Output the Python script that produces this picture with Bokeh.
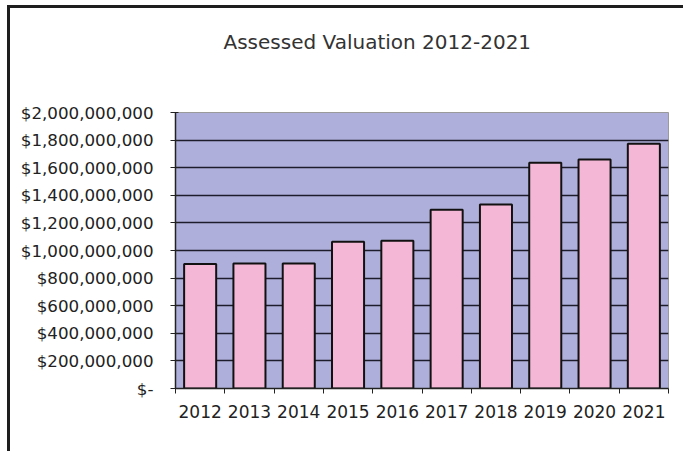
from bokeh.plotting import figure
from bokeh.models import Range1d, FixedTicker, ColumnDataSource, Title
from bokeh.embed import file_html
from bokeh.resources import INLINE

# ---- data ----
years = ["2012", "2013", "2014", "2015", "2016", "2017", "2018", "2019", "2020", "2021"]
values = [903e6, 906e6, 906e6, 1063e6, 1070e6, 1295e6, 1333e6, 1635e6, 1659e6, 1773e6]
y_ticks = [0, 200000000, 400000000, 600000000, 800000000, 1000000000,
           1200000000, 1400000000, 1600000000, 1800000000, 2000000000]
y_tick_labels = ["$-", "$200,000,000", "$400,000,000", "$600,000,000", "$800,000,000",
                 "$1,000,000,000", "$1,200,000,000", "$1,400,000,000", "$1,600,000,000",
                 "$1,800,000,000", "$2,000,000,000"]
title_text = "Assessed Valuation  2012-2021"

xpos = [i + 0.5 for i in range(len(years))]
src = ColumnDataSource(dict(x=xpos, v=values, year=years))

p = figure(width=676, height=446, output_backend="svg", toolbar_location=None,
           title=None,
           x_range=Range1d(0, len(years)), y_range=Range1d(0, y_ticks[-1]),
           min_border_left=165, min_border_right=18, min_border_top=104,
           min_border_bottom=66)
p.styles = {"border-left": "3px solid #1e1e1e", "border-top": "3px solid #1e1e1e",
            "margin-left": "7px", "margin-top": "5px"}

p.background_fill_color = "#AFAFDB"
p.border_fill_color = "white"
p.outline_line_color = "#9a9a9a"
p.outline_line_width = 1

p.vbar(x="x", top="v", width=0.65, source=src, fill_color="#F4B8D6",
       line_color="#111111", line_width=2)

# grid
p.xgrid.visible = False
p.ygrid.ticker = FixedTicker(ticks=y_ticks[1:-1])
p.ygrid.grid_line_color = "#1c1c2c"
p.ygrid.grid_line_width = 1.5

# y axis
ya = p.yaxis[0]
ya.ticker = FixedTicker(ticks=y_ticks)
ya.major_label_overrides = dict(zip(y_ticks, y_tick_labels))
ya.axis_line_color = "#222222"
ya.axis_line_width = 1.5
ya.major_tick_line_color = "#222222"
ya.major_tick_out = 5
ya.major_tick_in = 3
ya.minor_tick_line_color = None
ya.major_label_standoff = 17
ya.major_label_text_font = "DejaVu Sans"
ya.major_label_text_font_size = "16.7px"
ya.major_label_text_color = "#222222"

# x axis
xa = p.xaxis[0]
xa.ticker = FixedTicker(ticks=xpos, minor_ticks=list(range(len(years) + 1)))
xa.major_label_overrides = dict(zip(xpos, years))
xa.axis_line_color = "#222222"
xa.axis_line_width = 1.5
xa.major_tick_out = 0
xa.major_tick_in = 0
xa.minor_tick_out = 5
xa.minor_tick_in = 0
xa.minor_tick_line_color = "#222222"
xa.major_label_standoff = 11
xa.major_label_text_font = "DejaVu Sans"
xa.major_label_text_font_size = "17px"
xa.major_label_text_color = "#222222"

# title: spacer panel next to the frame, then the real title above it
spacer = Title(text=" ", text_font_size="20px", standoff=35)
p.add_layout(spacer, "above")
main_title = Title(text=title_text, align="left", offset=48, standoff=0,
                   text_font="DejaVu Sans", text_font_size="20px",
                   text_font_style="normal", text_color="#333333")
p.add_layout(main_title, "above")

open("out.html", "w").write(file_html(p, INLINE))
